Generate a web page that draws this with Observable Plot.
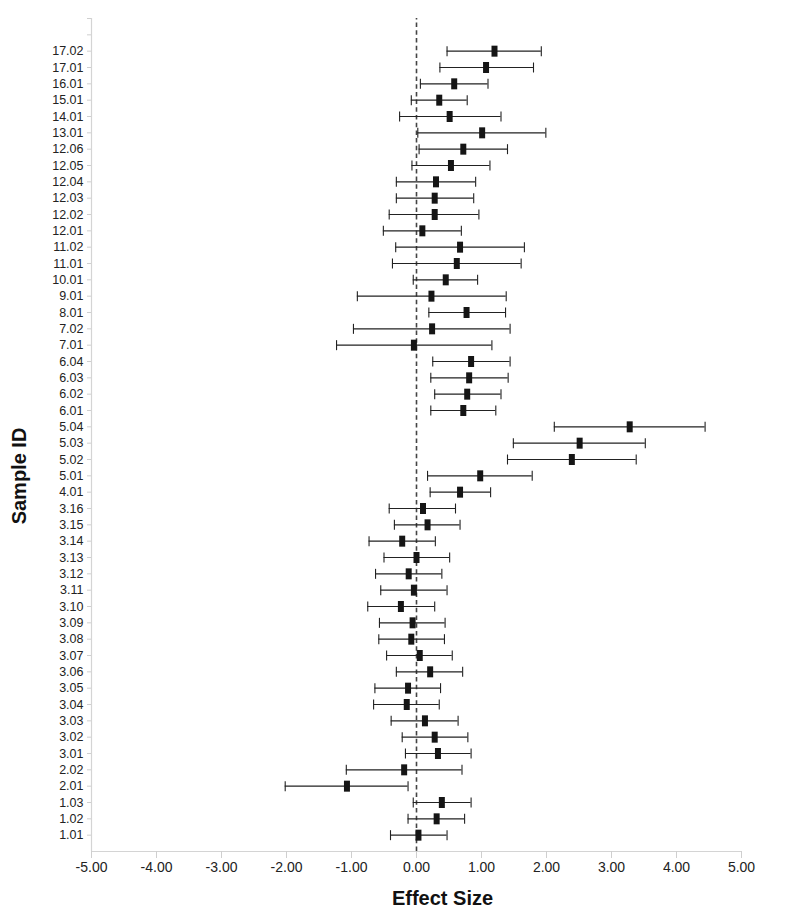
<!DOCTYPE html>
<html>
<head>
<meta charset="utf-8">
<script src="https://cdn.jsdelivr.net/npm/d3@7"></script>
<script src="https://cdn.jsdelivr.net/npm/@observablehq/plot@0.6"></script>
<style>
  html, body { margin: 0; padding: 0; background: #fff; }
  #chart { width: 800px; height: 920px; }
</style>
</head>
<body>
<div id="chart"></div>
<script>
// Sample IDs, bottom to top
const sampleIds = ["1.01","1.02","1.03","2.01","2.02","3.01","3.02","3.03","3.04","3.05","3.06","3.07","3.08","3.09","3.10","3.11","3.12","3.13","3.14","3.15","3.16","4.01","5.01","5.02","5.03","5.04","6.01","6.02","6.03","6.04","7.01","7.02","8.01","9.01","10.01","11.01","11.02","12.01","12.02","12.03","12.04","12.05","12.06","13.01","14.01","15.01","16.01","17.01","17.02"];
const effect = [0.03,0.31,0.39,-1.07,-0.19,0.33,0.28,0.13,-0.15,-0.13,0.21,0.05,-0.08,-0.06,-0.24,-0.04,-0.12,0.00,-0.22,0.17,0.10,0.67,0.98,2.39,2.51,3.28,0.72,0.78,0.81,0.84,-0.04,0.24,0.77,0.23,0.45,0.62,0.67,0.09,0.28,0.28,0.30,0.53,0.72,1.01,0.51,0.35,0.58,1.07,1.20];
const lower = [-0.40,-0.13,-0.05,-2.02,-1.08,-0.17,-0.22,-0.39,-0.66,-0.64,-0.31,-0.46,-0.58,-0.57,-0.75,-0.55,-0.63,-0.50,-0.73,-0.34,-0.42,0.21,0.17,1.40,1.49,2.12,0.22,0.28,0.22,0.25,-1.23,-0.97,0.19,-0.91,-0.05,-0.37,-0.32,-0.51,-0.42,-0.31,-0.31,-0.07,0.04,0.02,-0.26,-0.08,0.06,0.36,0.47];
const upper = [0.47,0.74,0.84,-0.13,0.70,0.84,0.79,0.64,0.35,0.37,0.71,0.55,0.43,0.44,0.28,0.47,0.39,0.51,0.29,0.67,0.60,1.14,1.78,3.38,3.52,4.44,1.22,1.30,1.41,1.44,1.16,1.44,1.37,1.38,0.94,1.61,1.66,0.69,0.96,0.88,0.91,1.13,1.40,1.99,1.30,0.78,1.10,1.80,1.92];
const xTicks = [-5,-4,-3,-2,-1,0,1,2,3,4,5];
const xTitle = "Effect Size";
const yTitle = "Sample ID";

const rows = sampleIds.map((id, i) => ({id, pos: i + 1, est: effect[i], lo: lower[i], hi: upper[i]}));
const yMax = sampleIds.length + 2;
const yTicks = d3.range(1, yMax + 1);

const boxSymbol = { draw(ctx) { ctx.rect(-3, -5.5, 6, 11); } };
const capSymbol = { draw(ctx) { ctx.moveTo(0, -5); ctx.lineTo(0, 5); } };

const chart = Plot.plot({
  width: 800,
  height: 920,
  marginLeft: 91,
  marginRight: 59,
  marginTop: 18,
  marginBottom: 69,
  style: { fontFamily: "'Liberation Sans', Arial, sans-serif", background: "#fff", color: "#222" },
  x: { domain: [-5, 5], label: null },
  y: { domain: [0, yMax], label: null },
  marks: [
    Plot.ruleY([0], { stroke: "#d4d4d4", strokeWidth: 1.2 }),
    Plot.ruleX([-5], { stroke: "#d4d4d4", strokeWidth: 1.2 }),
    Plot.axisX({ ticks: xTicks, tickFormat: d => d.toFixed(2), tickSize: 7, tickPadding: 4, stroke: "#cfcfcf", fill: "#222", fontSize: 14, label: null }),
    Plot.axisY({ ticks: yTicks, tickFormat: i => sampleIds[i - 1] ?? "", tickSize: 4, tickPadding: 4, stroke: "#cfcfcf", fill: "#222", fontSize: 12.5, label: null }),
    Plot.ruleX([0], { y1: 0, y2: yMax, stroke: "#444", strokeWidth: 1.6, strokeDasharray: "4.5,3.2" }),
    Plot.ruleY(rows, { y: "pos", x1: "lo", x2: "hi", stroke: "#222", strokeWidth: 1.1 }),
    Plot.dot(rows, { x: "lo", y: "pos", symbol: capSymbol, fill: "none", stroke: "#222", strokeWidth: 1.1 }),
    Plot.dot(rows, { x: "hi", y: "pos", symbol: capSymbol, fill: "none", stroke: "#222", strokeWidth: 1.1 }),
    Plot.dot(rows, { x: "est", y: "pos", symbol: boxSymbol, fill: "#151515", stroke: "none" }),
    Plot.text([xTitle], { frameAnchor: "bottom", textAnchor: "middle", dx: 26, dy: 47, fontSize: 20, fontWeight: "bold", fill: "#111", lineAnchor: "middle" }),
    Plot.text([yTitle], { frameAnchor: "left", textAnchor: "middle", dx: -72, dy: 41, rotate: -90, fontSize: 20, fontWeight: "bold", fill: "#111", lineAnchor: "middle" })
  ]
});
document.getElementById("chart").appendChild(chart);
</script>
</body>
</html>
